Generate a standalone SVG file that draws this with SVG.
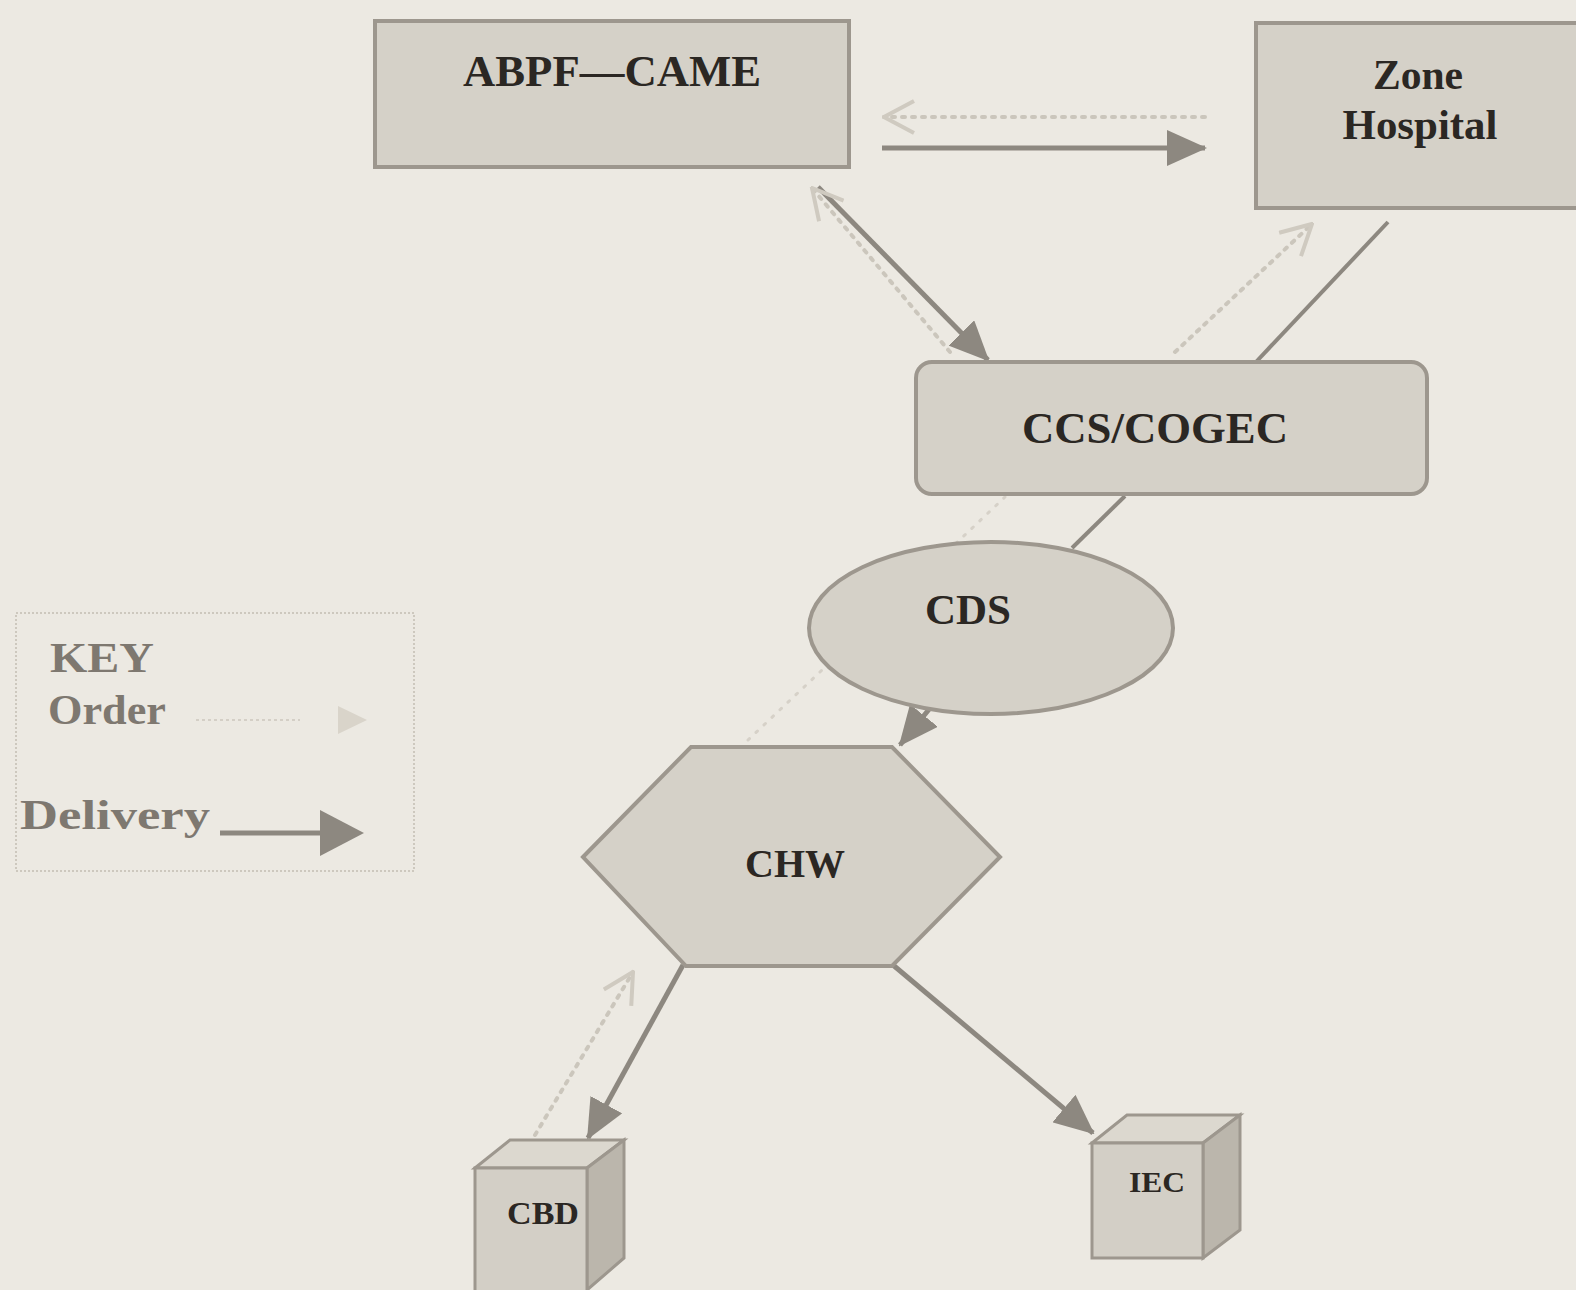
<svg xmlns="http://www.w3.org/2000/svg" width="1576" height="1290" viewBox="0 0 1576 1290">
<style>
.node{fill:#d5d1c8;stroke:#9d978e;stroke-width:4}
.lbl{font-family:"Liberation Serif","Times New Roman",serif;font-weight:bold;fill:#2b2723;text-anchor:middle}
.key{font-family:"Liberation Serif","Times New Roman",serif;font-weight:bold;fill:#7e7870}
.del{stroke:#8d8880;stroke-width:5;fill:none}
.ord{stroke:#cbc6bc;stroke-width:4;fill:none;stroke-dasharray:3 7;stroke-linecap:round}
.faint{stroke:#d6d1c8;stroke-width:3;fill:none;stroke-dasharray:2 9;stroke-linecap:round}
.plain{stroke:#8d8880;stroke-width:4;fill:none}
.top{fill:#dcd8cf;stroke:#9d978e;stroke-width:3}
.side{fill:#bbb6ac;stroke:#9d978e;stroke-width:3}
.front{fill:#d3cfc6;stroke:#9d978e;stroke-width:3}
</style>
<defs>
<marker id="mDel" markerUnits="userSpaceOnUse" markerWidth="40" markerHeight="36" refX="38" refY="18" orient="auto">
<path d="M0,0 L40,18 L0,36 z" fill="#8d8880"/>
</marker>
<marker id="mOrd" markerUnits="userSpaceOnUse" markerWidth="34" markerHeight="36" refX="32" refY="18" orient="auto">
<path d="M2,2 L32,18 L2,34" fill="none" stroke="#cfcac0" stroke-width="4"/>
</marker>
</defs>
<rect width="1576" height="1290" fill="#ece9e2"/>

<g id="connectors">
<line class="faint" x1="748" y1="740" x2="1005" y2="497"/>
<line class="ord" x1="1205" y1="117" x2="884" y2="117" marker-end="url(#mOrd)"/>
<line class="del" x1="882" y1="148" x2="1205" y2="148" marker-end="url(#mDel)"/>
<line class="del" x1="818" y1="187" x2="988" y2="360" marker-end="url(#mDel)"/>
<line class="ord" x1="950" y1="352" x2="812" y2="188" marker-end="url(#mOrd)"/>
<line class="ord" x1="1175" y1="352" x2="1312" y2="224" marker-end="url(#mOrd)"/>
<line class="plain" x1="1388" y1="222" x2="1256" y2="362"/>
<line class="plain" x1="1125" y1="496" x2="1072" y2="548"/>
<line class="del" x1="935" y1="702" x2="900" y2="745" marker-end="url(#mDel)"/>
<line class="del" x1="683" y1="965" x2="588" y2="1138" marker-end="url(#mDel)"/>
<line class="ord" x1="535" y1="1135" x2="633" y2="972" marker-end="url(#mOrd)"/>
<line class="del" x1="893" y1="965" x2="1093" y2="1133" marker-end="url(#mDel)"/>
</g>

<g id="abpf">
<rect class="node" x="375" y="21" width="474" height="146"/>
<text class="lbl" x="612" y="86" font-size="44" textLength="298" lengthAdjust="spacingAndGlyphs">ABPF—CAME</text>
</g>

<g id="zone">
<rect class="node" x="1256" y="23" width="330" height="185"/>
<text class="lbl" x="1418" y="89" font-size="42" textLength="90" lengthAdjust="spacingAndGlyphs">Zone</text>
<text class="lbl" x="1420" y="139" font-size="42" textLength="155" lengthAdjust="spacingAndGlyphs">Hospital</text>
</g>

<g id="ccs">
<rect class="node" x="916" y="362" width="511" height="132" rx="16"/>
<text class="lbl" x="1155" y="443" font-size="44" textLength="266" lengthAdjust="spacingAndGlyphs">CCS/COGEC</text>
</g>

<g id="cds">
<ellipse class="node" cx="991" cy="628" rx="182" ry="86"/>
<text class="lbl" x="968" y="624" font-size="42" textLength="86" lengthAdjust="spacingAndGlyphs">CDS</text>
</g>

<g id="chw">
<polygon class="node" points="583,857 691,747 892,747 1000,857 892,966 686,966"/>
<text class="lbl" x="795" y="877" font-size="40" textLength="100" lengthAdjust="spacingAndGlyphs">CHW</text>
</g>

<g id="cbd">
<polygon class="top" points="475,1168 510,1140 624,1140 587,1168"/>
<polygon class="side" points="587,1168 624,1140 624,1258 587,1290"/>
<rect class="front" x="475" y="1168" width="112" height="130"/>
<text class="lbl" x="543" y="1224" font-size="31" textLength="72" lengthAdjust="spacingAndGlyphs">CBD</text>
</g>

<g id="iec">
<polygon class="top" points="1092,1143 1127,1115 1240,1115 1203,1143"/>
<polygon class="side" points="1203,1143 1240,1115 1240,1230 1203,1258"/>
<rect class="front" x="1092" y="1143" width="111" height="115"/>
<text class="lbl" x="1157" y="1192" font-size="30" textLength="56" lengthAdjust="spacingAndGlyphs">IEC</text>
</g>

<g id="legend">
<rect x="16" y="613" width="398" height="258" fill="none" stroke="#cdc8be" stroke-width="2" stroke-dasharray="2 2"/>
<text class="key" x="50" y="672" font-size="42" textLength="104" lengthAdjust="spacingAndGlyphs">KEY</text>
<text class="key" x="48" y="724" font-size="42" textLength="118" lengthAdjust="spacingAndGlyphs">Order</text>
<line x1="196" y1="720" x2="300" y2="720" stroke="#d4cfc6" stroke-width="2" stroke-dasharray="3 3"/>
<path d="M338,706 L367,720 L338,734 z" fill="#d9d4ca"/>
<text class="key" x="20" y="829" font-size="42" textLength="190" lengthAdjust="spacingAndGlyphs">Delivery</text>
<line x1="220" y1="833" x2="330" y2="833" stroke="#8d8880" stroke-width="5"/>
<path d="M320,810 L364,833 L320,856 z" fill="#8d8880"/>
</g>
</svg>
